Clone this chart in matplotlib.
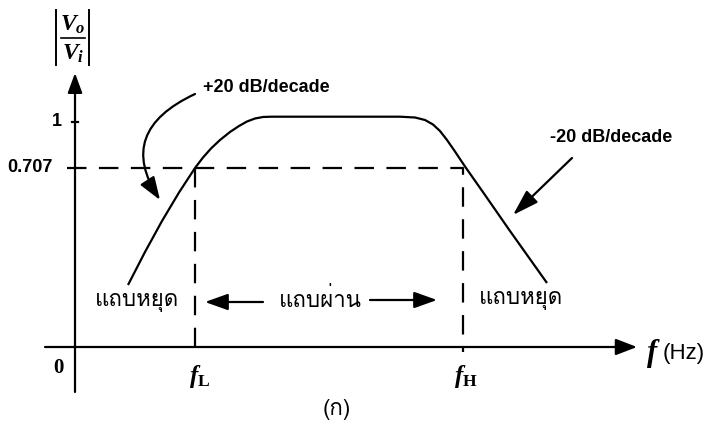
import matplotlib
matplotlib.use("Agg")
import matplotlib.pyplot as plt
from matplotlib import font_manager, ft2font

# ---- find a font that can show Thai ----
thai_family = None
for f in font_manager.fontManager.ttflist:
    try:
        cm = ft2font.FT2Font(f.fname).get_charmap()
        if 0x0E16 in cm and 0x0E1A in cm:
            thai_family = f.name
            break
    except Exception:
        pass
thai_fams = ([thai_family] if thai_family else []) + ["DejaVu Sans"]

plt.rcParams['lines.scale_dashes'] = False
plt.rcParams['mathtext.fontset'] = 'custom'
plt.rcParams['mathtext.it'] = 'Liberation Serif:italic:bold'
plt.rcParams['mathtext.rm'] = 'Liberation Serif:bold'
plt.rcParams['mathtext.bf'] = 'Liberation Serif:bold'

# ---- data (diagram units; origin at axes crossing) ----
curve_x = [53, 70, 87, 104, 120, 128, 136, 145, 155, 164, 172, 180, 188, 196,
           325, 340, 350, 358, 365, 372, 380, 390, 410, 435, 472]
curve_y = [62, 95, 126, 154.5, 179, 189.5, 198.5, 207, 215, 221, 225.5, 228.5, 230, 230.3,
           230.3, 229.5, 227, 222.5, 216, 207, 195.5, 180.5, 152, 116, 64]
level_one = 225
level_707 = 179
f_low = 120
f_high = 388
ytick_labels = ["1", "0.707"]
band_labels = ["แถบหยุด", "แถบผ่าน", "แถบหยุด"]
slope_labels = ["+20 dB/decade", "-20 dB/decade"]

fig = plt.figure(figsize=(7.11, 4.26), dpi=100)
ax = fig.add_axes([0, 0, 1, 1])
ax.set_xlim(-75, 636)
ax.set_ylim(-79, 347)
ax.axis('off')

lw = 1.6
def arrow(start, tip, hl=0.6, hw=0.22, lwid=lw, cs="arc3"):
    ax.annotate('', xy=tip, xytext=start,
                arrowprops=dict(arrowstyle=f'-|>,head_length={hl},head_width={hw}',
                                lw=lwid, color='black', mutation_scale=20,
                                shrinkA=0, shrinkB=0, connectionstyle=cs))

# axes
arrow((0, -45), (0, 274), hl=0.6, hw=0.22)
arrow((-30, 0), (562, 0), hl=0.65, hw=0.25)
# tick at 1
ax.plot([-3, 3], [level_one, level_one], color='black', lw=lw)

# response curve
ax.plot(curve_x, curve_y, color='black', lw=lw, solid_capstyle='butt',
        solid_joinstyle='round')

# dashed guide lines
ax.plot([-8, f_high, f_high], [level_707, level_707, -5], color='black', lw=lw,
        dashes=(14, 9))
ax.plot([f_low, f_low], [level_707, -5], color='black', lw=lw, dashes=(14, 9))

# band arrows
arrow((188, 45), (130, 45), hl=0.7, hw=0.25)
arrow((295, 47), (362, 47), hl=0.7, hw=0.25)

# slope arrows
arrow((120, 253), (85, 147), hl=0.7, hw=0.25, cs="angle3,angleA=25,angleB=-57")
arrow((497, 189), (438, 132), hl=0.8, hw=0.25)

bold = dict(family='Liberation Sans', weight='bold', color='black')
ax.text(-13, level_one, ytick_labels[0], ha='right', va='center', fontsize=13, **bold)
ax.text(-22, level_707, ytick_labels[1], ha='right', va='center', fontsize=13, **bold)
ax.text(128, 259, slope_labels[0], ha='left', va='center', fontsize=13, **bold)
ax.text(475, 210, slope_labels[1], ha='left', va='center', fontsize=13, **bold)

ax.text(-17, -21, "0", ha='center', va='center', fontsize=15,
        family='Liberation Serif', weight='bold')

thai = dict(family=thai_fams, fontsize=16, color='black', va='center', ha='center')
ax.text(62, 45, band_labels[0], **thai)
ax.text(245, 47, band_labels[1], **thai)
ax.text(446, 47, band_labels[2], **thai)
ax.text(262, -62, "(ก)", family=thai_fams, fontsize=16, ha='center', va='center')

ax.text(f_low + 5, -30, r'$f_{\mathrm{L}}$', ha='center', va='center', fontsize=18)
ax.text(f_high + 3, -30, r'$f_{\mathrm{H}}$', ha='center', va='center', fontsize=18)
ax.text(578, -6, r'$f$', ha='center', va='center', fontsize=22)
ax.text(588, -7, "(Hz)", ha='left', va='center', fontsize=16, family='Liberation Sans')

# |Vo/Vi|
ax.plot([-19, -19], [282, 337], color='black', lw=1.4)
ax.plot([14, 14], [282, 337], color='black', lw=1.4)
ax.plot([-14, 10], [309, 309], color='black', lw=1.2)
ax.text(-2, 323, r'$V_o$', ha='center', va='center', fontsize=17)
ax.text(-2, 294, r'$V_i$', ha='center', va='center', fontsize=17)

fig.savefig("out.png", dpi=100, facecolor='white')
